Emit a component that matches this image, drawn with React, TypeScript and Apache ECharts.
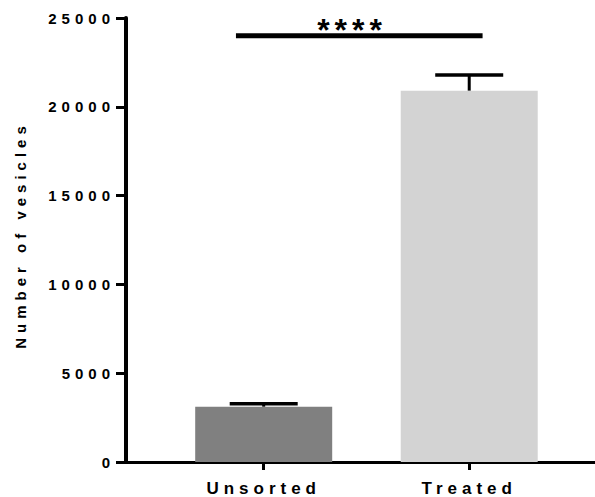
import React, { useEffect, useRef } from "react";
import * as echarts from "echarts";

const categories = ["Unsorted", "Treated"];
const positions = [1, 2];
const means = [3110, 20900];
const sds = [170, 890];
const barColors = ["#808080", "#d3d3d3"];
const sigSpan = [0.865, 2.065];
const sigLevel = 24000;
const sigLabelAt = 1.43;
const sigLabel = "****";
const yTitle = "Number of vesicles";

const FONT = "'Liberation Sans', Arial, Helvetica, sans-serif";

export default function App() {
  const ref = useRef<HTMLDivElement>(null);
  useEffect(() => {
    const chart = echarts.init(ref.current!, null, { renderer: "svg" });
    chart.setOption({
      animation: false,
      grid: { left: 126, right: 0, top: 18, bottom: 35, containLabel: false },
      xAxis: {
        type: "value",
        min: 0.33,
        max: 2.612,
        splitLine: { show: false },
        axisLine: { show: true, onZero: false, lineStyle: { color: "#000", width: 3 } },
        axisTick: { show: true, customValues: positions, length: 8, lineStyle: { color: "#000", width: 3 } },
        axisLabel: {
          customValues: positions,
          formatter: (v: number) => {
            const i = positions.indexOf(Math.round(v));
            return i >= 0 ? categories[i] : "";
          },
          margin: 18,
          color: "#000",
          fontWeight: "bold",
          fontSize: 17,
          fontFamily: FONT,
        },
      },
      yAxis: {
        type: "value",
        min: 0,
        max: 25000,
        interval: 5000,
        splitLine: { show: false },
        axisLine: { show: true, lineStyle: { color: "#000", width: 4 } },
        axisTick: { show: true, length: 10, lineStyle: { color: "#000", width: 3 } },
        axisLabel: {
          formatter: (v: number) => String(v),
          margin: 11,
          color: "#000",
          fontWeight: "bold",
          fontSize: 15,
          fontFamily: FONT,
        },
      },
      graphic: [
        {
          type: "text",
          x: 20,
          y: 235,
          rotation: Math.PI / 2,
          style: {
            text: yTitle,
            fill: "#000",
            fontSize: 15,
            fontWeight: "bold",
            fontFamily: FONT,
            align: "center",
            verticalAlign: "middle",
          },
        },
      ],
      series: [
        {
          type: "bar",
          barWidth: 137,
          data: positions.map((p, i) => ({ value: [p, means[i]], itemStyle: { color: barColors[i] } })),
        },
        {
          type: "custom",
          data: positions.map((p, i) => [p, means[i], means[i] + sds[i]]),
          encode: { x: 0, y: [1, 2] },
          renderItem: (params: any, api: any) => {
            const x = api.value(0);
            const base = api.coord([x, api.value(1)]);
            const top = api.coord([x, api.value(2)]);
            return {
              type: "group",
              children: [
                { type: "line", shape: { x1: base[0], y1: base[1], x2: top[0], y2: top[1] }, style: { stroke: "#000", lineWidth: 3 } },
                { type: "line", shape: { x1: top[0] - 34, y1: top[1], x2: top[0] + 34, y2: top[1] }, style: { stroke: "#000", lineWidth: 3.5 } },
              ],
            };
          },
        },
        {
          type: "custom",
          data: [[sigSpan[0], sigSpan[1], sigLevel, sigLabelAt]],
          encode: { x: [0, 1, 3], y: 2 },
          renderItem: (params: any, api: any) => {
            const a = api.coord([api.value(0), api.value(2)]);
            const b = api.coord([api.value(1), api.value(2)]);
            const c = api.coord([api.value(3), api.value(2)]);
            return {
              type: "group",
              children: [
                { type: "line", shape: { x1: a[0], y1: a[1], x2: b[0], y2: b[1] }, style: { stroke: "#000", lineWidth: 5 } },
                {
                  type: "text",
                  x: c[0],
                  y: c[1] - 6,
                  style: {
                    text: sigLabel,
                    fill: "#000",
                    fontSize: 32,
                    fontWeight: "bold",
                    fontFamily: FONT,
                    align: "center",
                    verticalAlign: "middle",
                  },
                },
              ],
            };
          },
        },
      ],
    });
    return () => chart.dispose();
  }, []);
  return (
    <>
      <style>{".chart text{letter-spacing:5px}"}</style>
      <div
        ref={ref}
        className="chart"
        style={{ position: "fixed", left: 0, top: 0, width: 595, height: 497, background: "#fff" }}
      />
    </>
  );
}
